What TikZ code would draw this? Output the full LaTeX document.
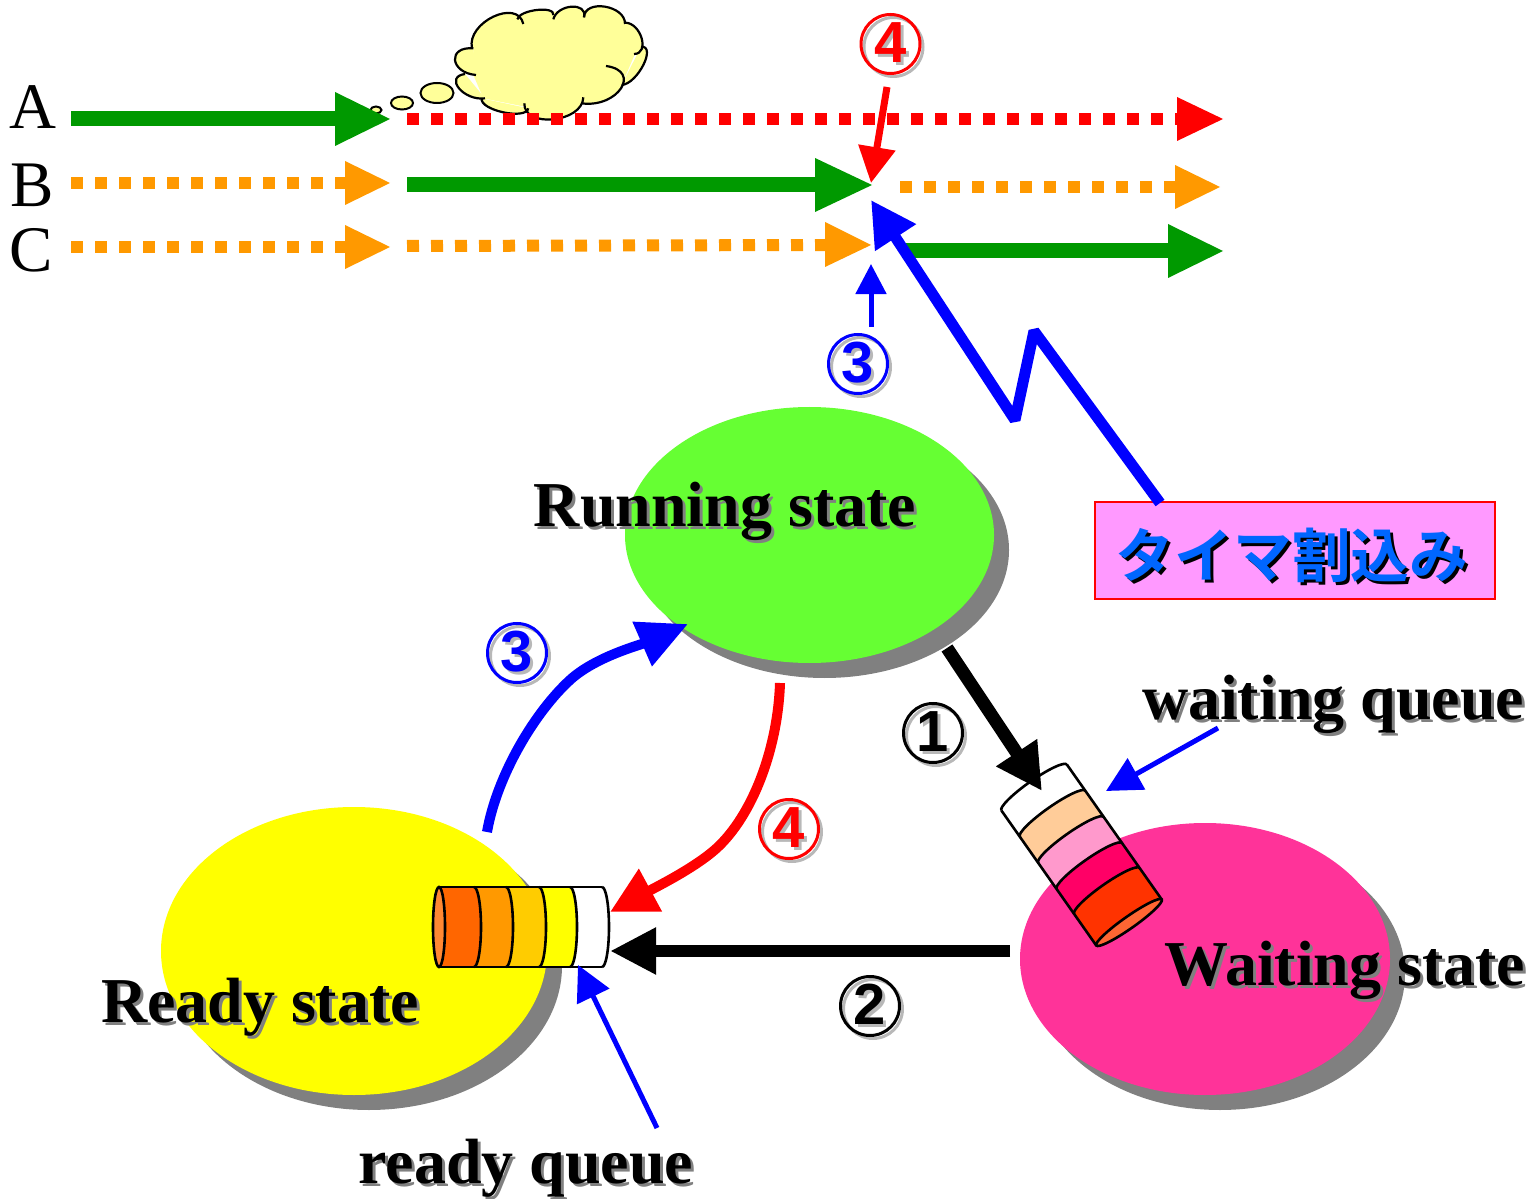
\documentclass[tikz,border=0pt]{standalone}
\usepackage{fontspec}
\setmainfont{Liberation Serif}
\newfontfamily\cjkf[BoldFont={Noto Sans CJK JP Bold}]{Noto Sans CJK JP}
\newfontfamily\numf{Liberation Sans Bold}
\usetikzlibrary{arrows.meta,shapes.geometric,calc}
\newdimen\px \px=0.02cm
\definecolor{cgreen}{HTML}{009900}
\definecolor{corange}{HTML}{FF9900}
\definecolor{cblue}{HTML}{0000FF}
\definecolor{cred}{HTML}{FF0000}
\definecolor{cyel}{HTML}{FFFF00}
\definecolor{cshadow}{HTML}{808080}
\definecolor{ctext}{HTML}{0066FF}
\definecolor{cshlight}{HTML}{B8B8B8}
\definecolor{ccloud}{HTML}{FFFF99}
\definecolor{crun}{HTML}{66FF33}
\definecolor{cwait}{HTML}{FF3399}
\definecolor{ctimer}{HTML}{FF99FF}
\definecolor{qa}{HTML}{FFCC00}
\definecolor{qb}{HTML}{FF6600}
\definecolor{qc}{HTML}{FF8833}
\definecolor{wa}{HTML}{FFCC99}
\definecolor{wb}{HTML}{FF99CC}
\definecolor{wc}{HTML}{FF0066}
\definecolor{wd}{HTML}{FF3300}
\definecolor{we}{HTML}{FF6633}
\newcommand{\shadowed}[3]{\leavevmode\rlap{\kern3\px\raisebox{-3\px}{\color{#1}#3}}{\color{#2}#3}}
\newcommand{\queue}[3]{%
  \foreach \qx/\qcol in {#1}{
    \fill[\qcol] (0,-40) -- (\qx,-40) arc[start angle=-90,end angle=90,x radius=7,y radius=40] -- (0,40) -- cycle;
    \draw[line width=2.6\px] (\qx,-40) arc[start angle=-90,end angle=90,x radius=7,y radius=40];
  }
  \draw[line width=2.6\px,line join=round] (0,-40) -- (#2,-40) (0,40) -- (#2,40);
  \filldraw[fill=#3,line width=2.6\px] (0,0) ellipse[x radius=6,y radius=40];
}
\tikzset{
  x=0.02cm,y=-0.02cm,
  state/.style={ellipse,inner sep=0pt,minimum width=#1},
  dotline/.style={line width=12\px,dash pattern=on 12\px off 12\px},
  lab/.style={font=\fontsize{37pt}{37pt}\selectfont,inner sep=0pt},
  blab/.style={font=\fontsize{36.4pt}{36pt}\selectfont\bfseries,inner sep=0pt},
  numb/.style={circle,draw=#1,line width=3\px,inner sep=0pt,minimum size=59\px,font=\numf\fontsize{33pt}{33pt}\selectfont,
    preaction={draw=cshlight,transform canvas={shift={(3\px,-3\px)}}}},
}
\begin{document}
\begin{tikzpicture}
\useasboundingbox (0,0) rectangle (1539,1199);
% cloud
\begin{scope}[shift={(340,0)},x=0.006667cm,y=-0.006667cm]
\fill[ccloud] (400,145) -- (470,60) -- (590,40) -- (695,30) -- (795,30) -- (855,70) -- (890,150) -- (845,255) -- (730,300) -- (555,320) -- (430,295) -- (400,225) -- cycle;
\foreach \ax/\ay/\mx/\my/\bx/\by in {400/145/345/180/408/225,375/222/357/265/435/295,425/295/490/337/565/325,553/310/640/358/730/292,725/310/843/265/798/198,845/255/910/195/903/140,882/162/905/115/855/68,855/72/795/20/732/52,732/52/695/20/640/58,640/45/590/30/532/58,550/72/460/50/396/145}{
  \pgfmathsetmacro{\cax}{\ax+4/3*(\mx-(\ax+\bx)/2)}
  \pgfmathsetmacro{\cay}{\ay+4/3*(\my-(\ay+\by)/2)}
  \pgfmathsetmacro{\cbx}{\bx+4/3*(\mx-(\ax+\bx)/2)}
  \pgfmathsetmacro{\cby}{\by+4/3*(\my-(\ay+\by)/2)}
  \fill[ccloud] (\ax,\ay) .. controls (\cax,\cay) and (\cbx,\cby) .. (\bx,\by) -- cycle;
}
\foreach \ax/\ay/\mx/\my/\bx/\by in {400/145/345/180/408/225,375/222/357/265/435/295,425/295/490/337/565/325,553/310/640/358/730/292,725/310/843/265/798/198,845/255/910/195/903/140,882/162/905/115/855/68,855/72/795/20/732/52,732/52/695/20/640/58,640/45/590/30/532/58,550/72/460/50/396/145}{
  \pgfmathsetmacro{\cax}{\ax+4/3*(\mx-(\ax+\bx)/2)}
  \pgfmathsetmacro{\cay}{\ay+4/3*(\my-(\ay+\by)/2)}
  \pgfmathsetmacro{\cbx}{\bx+4/3*(\mx-(\ax+\bx)/2)}
  \pgfmathsetmacro{\cby}{\by+4/3*(\my-(\ay+\by)/2)}
  \draw[line width=2.2\px] (\ax,\ay) .. controls (\cax,\cay) and (\cbx,\cby) .. (\bx,\by);
}
\end{scope}
\filldraw[fill=ccloud,line width=2\px] (376,110) ellipse[x radius=5.5,y radius=3.5];
\filldraw[fill=ccloud,line width=2\px] (402,103) ellipse[x radius=11,y radius=6.5];
\filldraw[fill=ccloud,line width=2\px] (437,93) ellipse[x radius=16.5,y radius=10];
% labels A B C
\node[lab] (lA) at (33,107) {A};
\node[lab] (lB) at (32,185) {B};
\node[lab] (lC) at (31,250) {C};
% coordinates for timeline
\coordinate (a0) at (71,119); \coordinate (a1) at (390,119);
\coordinate (a2) at (407,119); \coordinate (a3) at (1223,119);
\coordinate (b0) at (71,183); \coordinate (b1) at (390,183);
\coordinate (b2) at (407,185); \coordinate (b3) at (872,185);
\coordinate (b4) at (900,187); \coordinate (b5) at (1220,187);
\coordinate (c0) at (71,247); \coordinate (c1) at (390,247);
\coordinate (c2) at (407,246); \coordinate (c3) at (871,245);
\coordinate (c4) at (903,251); \coordinate (c5) at (1223,251);
% timeline arrows
\draw[cgreen,line width=15\px] (a0) -- (336,119);
\fill[cgreen] (a1) -- (335,92) -- (335,146) -- cycle;
\draw[cred,dotline] (a2) -- (1178,119);
\fill[cred] (a3) -- (1177,97) -- (1177,141) -- cycle;
\draw[corange,dotline] (b0) -- (346,183);
\fill[corange] (b1) -- (345,161) -- (345,205) -- cycle;
\draw[cgreen,line width=15\px] (b2) -- (816,185);
\fill[cgreen] (b3) -- (815,158) -- (815,212) -- cycle;
\draw[corange,dotline] (b4) -- (1176,187);
\fill[corange] (b5) -- (1175,165) -- (1175,209) -- cycle;
\draw[corange,dotline] (c0) -- (346,247);
\fill[corange] (c1) -- (345,225) -- (345,269) -- cycle;
\draw[corange,dotline] (c2) -- (826,245);
\fill[corange] (c3) -- (825,222) -- (825,267) -- cycle;
\draw[cgreen,line width=15\px] (c4) -- (1170,251);
\fill[cgreen] (c5) -- (1168,224) -- (1168,278) -- cycle;
% states
\node[state=369\px,minimum height=256\px,fill=cshadow] (runS) at (824.5,550) {};
\node[state=369\px,minimum height=256\px,fill=crun] (run) at (809.5,535) {};
\node[state=386\px,minimum height=288\px,fill=cshadow] (readyS) at (369,966) {};
\node[state=386\px,minimum height=288\px,fill=cyel] (ready) at (354,951) {};
\node[state=370\px,minimum height=272\px,fill=cshadow] (waitS) at (1220,974) {};
\node[state=370\px,minimum height=272\px,fill=cwait] (wait) at (1205,959) {};
% ready queue
\begin{scope}[shift={(439,927)}]
\queue{163/white,131/cyel,100/qa,67/corange,35/qb}{163}{qc}
\end{scope}
% waiting queue
\begin{scope}[shift={(1129,922.5)},rotate=125.1]
\queue{165/white,133/wa,101/wb,69/wc,38.5/wd}{165}{we}
\end{scope}
% timer box
\node[draw=cred,line width=2\px,fill=ctimer,minimum width=400\px,minimum height=97\px,inner sep=0pt,font=\cjkf\bfseries\fontsize{33.4pt}{33pt}\selectfont] (timer) at (1295,550.5) {\kern-6\px\raisebox{-27\px}[0pt][0pt]{\shadowed{black}{ctext}{タイマ割込み}}};
% connector coordinates
\coordinate (t4a) at (887,87); \coordinate (t4b) at (871,183);
\coordinate (t3a) at (871,327); \coordinate (t3b) at (871,264);
\coordinate (z0) at (1160,503); \coordinate (z1) at (1034,331); \coordinate (z2) at (1015,420); \coordinate (z3) at (871,200);
\coordinate (bl0) at (487,832); \coordinate (bl1) at (688,624);
\coordinate (rd0) at (780,683); \coordinate (rd1) at (610,912);
\coordinate (k0) at (947,648); \coordinate (k1) at (1042,791);
\coordinate (k2) at (1010,951); \coordinate (k3) at (610,951);
\coordinate (w0) at (1218,728); \coordinate (w1) at (1106,791);
\coordinate (q0) at (657,1128); \coordinate (q1) at (578,965);
% connectors
\draw[cred,line width=7\px,-{Triangle[length=20.5pt,width=20.5pt]}] (t4a) -- (t4b);
\draw[cblue,line width=5\px,-{Triangle[length=17.1pt,width=17.1pt]}] (t3a) -- (t3b);
\draw[cblue,line width=11\px,line join=bevel,-{Triangle[length=25.6pt,width=26.2pt]}] (z0) -- (z1) -- (z2) -- (z3);
\draw[cblue,line width=10\px,-{Triangle[length=28.5pt,width=26.2pt]}] (bl0) .. controls (497,775) and (535,712) .. (570,680) .. controls (595,657) and (640,645) .. (bl1);
\draw[cred,line width=10\px,-{Triangle[length=26.2pt,width=26.2pt]}] (rd0) .. controls (778,745) and (755,810) .. (720,845) .. controls (700,865) and (660,885) .. (rd1);
\draw[line width=13\px,-{Triangle[length=26.2pt,width=26.2pt]}] (k0) -- (k1);
\draw[line width=12\px,-{Triangle[length=26.2pt,width=25pt]}] (k2) -- (k3);
\draw[cblue,line width=5\px,-{Triangle[length=19.9pt,width=19.9pt]}] (w0) -- (w1);
\draw[cblue,line width=5\px,-{Triangle[length=19.9pt,width=19.9pt]}] (q0) -- (q1);
% state labels
\node[blab] (trun) at (725,513) {\shadowed{cshadow}{black}{Running state}};
\node[blab] (tready) at (260,1009) {\shadowed{cshadow}{black}{Ready state}};
\node[blab] (twait) at (1345,972) {\shadowed{cshadow}{black}{Waiting state}};
\node[blab] (twq) at (1333,706) {\shadowed{cshadow}{black}{waiting queue}};
\node[blab] (trq) at (526,1170) {\shadowed{cshadow}{black}{ready queue}};
% circled numbers
\node[numb=cred] (n4a) at (890.5,44) {\shadowed{cshlight}{cred}{4}};
\node[numb=cblue] (n3a) at (858,364) {\shadowed{cshlight}{cblue}{3}};
\node[numb=cblue] (n3b) at (517,653) {\shadowed{cshlight}{cblue}{3}};
\node[numb=cred] (n4b) at (789,829) {\shadowed{cshlight}{cred}{4}};
\node[numb=black] (n1) at (933,733) {\shadowed{cshlight}{black}{1}};
\node[numb=black] (n2) at (870,1006) {\shadowed{cshlight}{black}{2}};
\end{tikzpicture}
\end{document}
